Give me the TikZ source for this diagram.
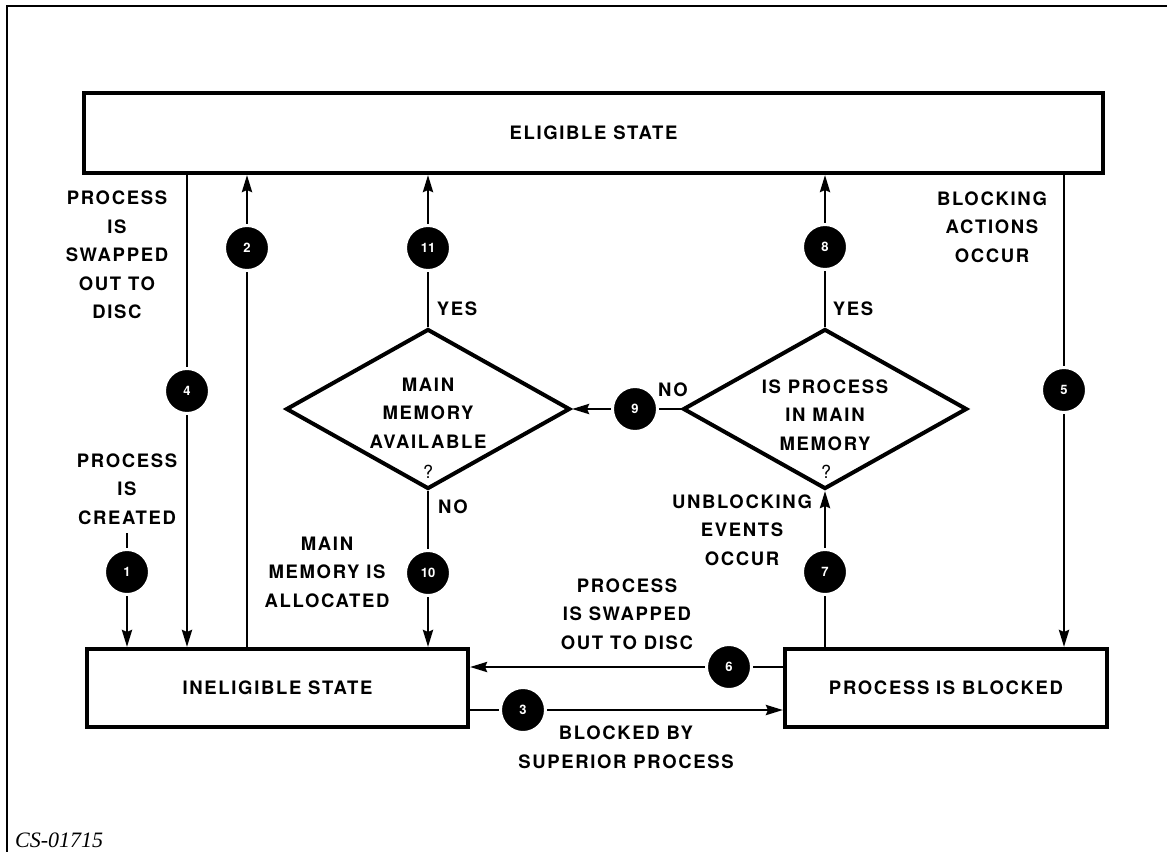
\documentclass[tikz,border=0pt]{standalone}
\usepackage{fontspec}
\usetikzlibrary{arrows.meta,shapes.geometric,backgrounds}
\newfontfamily\lblfont{TeX Gyre Heros}[LetterSpace=9]
\newfontfamily\numfont{TeX Gyre Heros}
\newfontfamily\capfont{Liberation Serif}

\begin{document}
\begin{tikzpicture}[x=1pt,y=-1pt,
  lbl/.style={align=center,inner sep=0,font=\lblfont\bfseries\fontsize{18.5}{28.5}\selectfont},
  state/.style={draw,line width=4pt,rectangle,inner sep=0,font=\lblfont\bfseries\fontsize{18.5}{28.5}\selectfont},
  decision/.style={draw,line width=4pt,diamond,inner sep=0,minimum width=284pt,minimum height=160pt},
  num/.style={circle,fill=black,draw=white,line width=3pt,minimum size=45pt,inner sep=0,text=white,font=\numfont\bfseries\fontsize{13}{13}\selectfont},
  flow/.style={line width=2.8pt,-{Stealth[length=17pt,width=10pt,inset=2pt]}},
  qm/.style={inner sep=0,font=\numfont\fontsize{18}{18}\selectfont}
]
\useasboundingbox (0,0) rectangle (1167,852);

% page frame (top and left edges)
\draw[line width=1.5pt] (1167,6) -- (7,6) -- (7,852);

% states
\node[state,minimum width=1019pt,minimum height=80pt] (elig) at (593.5,133) {ELIGIBLE STATE};
\node[state,minimum width=381pt,minimum height=78pt] (inel) at (277.5,688) {INELIGIBLE STATE};
\node[state,minimum width=322pt,minimum height=78pt] (blk) at (946,688) {PROCESS IS BLOCKED};

% decisions
\node[decision] (mm) at (428,409) {};
\node[decision] (inmm) at (825,409) {};
\node[lbl] (mmtxt) at (428,413) {MAIN\\MEMORY\\AVAILABLE};
\node[qm] (mmq) at (428,472) {?};
\node[lbl] (inmmtxt) at (825,415) {IS PROCESS\\IN MAIN\\MEMORY};
\node[qm] (inmmq) at (826,472) {?};

% numbered transitions
\coordinate (s1) at (127,533);
\node[num] (c1) at (127,572) {1};
\node[num] (c2) at (247,248) {2};
\node[num] (c3) at (523,710) {3};
\node[num] (c4) at (187,391) {4};
\node[num] (c5) at (1064,390) {5};
\node[num] (c6) at (729,667) {6};
\node[num] (c7) at (825,572) {7};
\node[num] (c8) at (825,247) {8};
\node[num] (c9) at (635,409) {9};
\node[num] (c10) at (428,573) {10};
\node[num] (c11) at (428,248) {11};

% connectors
\begin{scope}[on background layer]
\draw[flow] (s1) -- (s1 |- inel.north);
\draw[flow] (c2 |- inel.north) -- (c2 |- elig.south);
\draw[flow] (inel.east |- c3) -- (blk.west |- c3);
\draw[flow] (c4 |- elig.south) -- (c4 |- inel.north);
\draw[flow] (c5 |- elig.south) -- (c5 |- blk.north);
\draw[flow] (blk.west |- c6) -- (inel.east |- c6);
\draw[flow] (inmm.south |- blk.north) -- (inmm.south);
\draw[flow] (inmm.north) -- (inmm.north |- elig.south);
\draw[flow] (inmm.west) -- (mm.east);
\draw[flow] (mm.south) -- (mm.south |- inel.north);
\draw[flow] (mm.north) -- (mm.north |- elig.south);
\end{scope}

% transition labels
\node[lbl] (l4) at (117,255) {PROCESS\\IS\\SWAPPED\\OUT TO\\DISC};
\node[lbl] (l1) at (127,489) {PROCESS\\IS\\CREATED};
\node[lbl] (l10) at (327,572) {MAIN\\MEMORY IS\\ALLOCATED};
\node[lbl] (y11) at (457,309) {YES};
\node[lbl] (n10) at (453,507) {NO};
\node[lbl] (n9) at (673,390) {NO};
\node[lbl] (y8) at (853,309) {YES};
\node[lbl] (l5) at (992,227) {BLOCKING\\ACTIONS\\OCCUR};
\node[lbl] (l7) at (742,530) {UNBLOCKING\\EVENTS\\OCCUR};
\node[lbl] (l6) at (627,614) {PROCESS\\IS SWAPPED\\OUT TO DISC};
\node[lbl] (l3) at (626,747) {BLOCKED BY\\SUPERIOR PROCESS};

% figure number
\node[inner sep=0,anchor=west,font=\capfont\itshape\fontsize{22}{22}\selectfont] (fig) at (15,840) {CS-01715};
\end{tikzpicture}
\end{document}
